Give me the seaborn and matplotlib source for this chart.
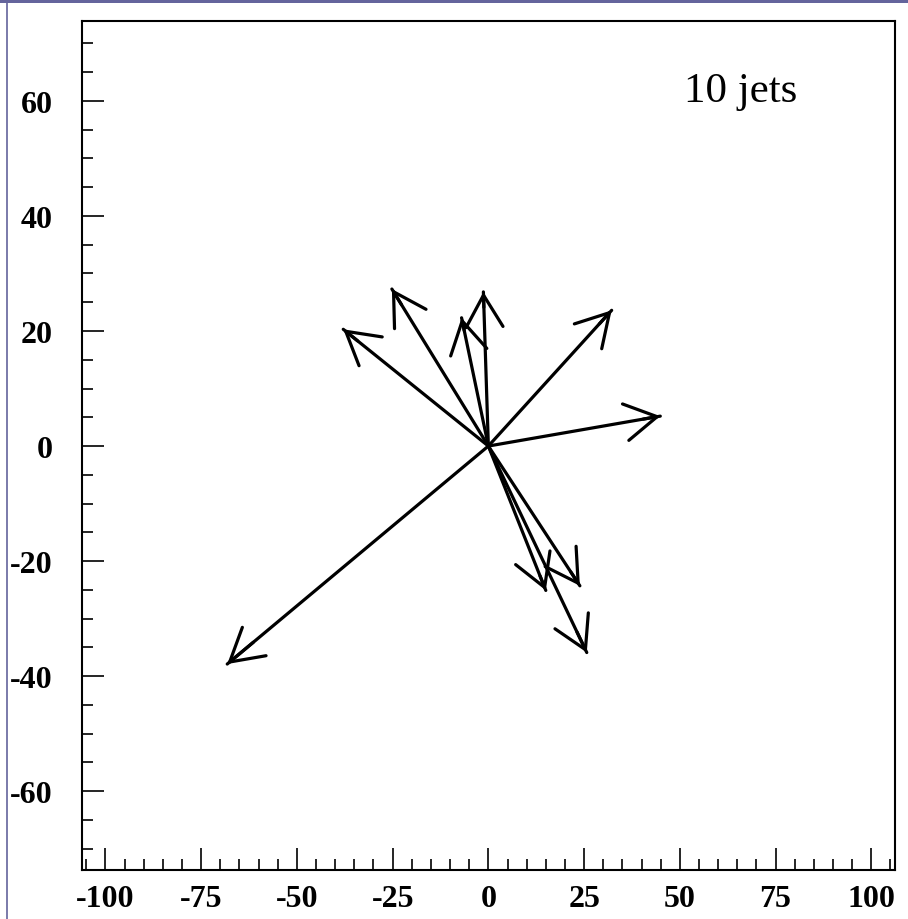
import matplotlib
matplotlib.use("Agg")
import matplotlib.pyplot as plt
from matplotlib.patches import Rectangle
from matplotlib.lines import Line2D
from matplotlib.ticker import MultipleLocator
import seaborn as sns
import pandas as pd

# jet momentum vectors (tips of the arrows, all start at the origin)
jet_px = [-68.2, 44.9, 32.2, -1.3, -7.0, -25.2, -37.9, 15.0, 23.9, 25.7]
jet_py = [-37.9, 5.2, 23.6, 26.8, 22.3, 27.3, 20.3, -25.1, -24.3, -35.9]
label_text = "10 jets"

sns.set_theme(style="ticks")
plt.rcParams["font.family"] = ["Liberation Serif", "DejaVu Serif"]
plt.rcParams["axes.unicode_minus"] = False
plt.rcParams["text.color"] = "black"

fig = plt.figure(figsize=(9.08, 9.2), dpi=100)
ax = fig.add_axes([0.09, 0.0533, 0.8957, 0.9228])

# shafts
rows = []
for i, (px, py) in enumerate(zip(jet_px, jet_py)):
    rows.append({"jet": i, "x": 0.0, "y": 0.0})
    rows.append({"jet": i, "x": px, "y": py})
df = pd.DataFrame(rows)
sns.lineplot(data=df, x="x", y="y", units="jet", estimator=None, sort=False,
             color="black", linewidth=2.3, ax=ax, legend=False)

# open arrow heads
for px, py in zip(jet_px, jet_py):
    ax.annotate("", xy=(px, py), xytext=(0.9 * px, 0.9 * py),
                arrowprops=dict(arrowstyle="->,head_length=23,head_width=13.3",
                                mutation_scale=1, color="black", lw=2.3,
                                shrinkA=0, shrinkB=0))

ax.text(51, 60, label_text, fontsize=31, va="baseline", ha="left",
        color="black", family=["Liberation Serif", "DejaVu Serif"])

ax.set_xlim(-106.2, 106.2)
ax.set_ylim(-73.7, 73.9)
ax.set_xlabel("")
ax.set_ylabel("")

ax.xaxis.set_major_locator(MultipleLocator(25))
ax.xaxis.set_minor_locator(MultipleLocator(5))
ax.yaxis.set_major_locator(MultipleLocator(20))
ax.yaxis.set_minor_locator(MultipleLocator(5))

ax.tick_params(which="both", direction="in", top=False, right=False,
               color="black", width=1.2)
ax.tick_params(which="major", length=16)
ax.tick_params(which="minor", length=8)
ax.tick_params(axis="x", which="major", pad=10)
ax.tick_params(axis="y", which="major", pad=21)

for lab in ax.get_xticklabels() + ax.get_yticklabels():
    lab.set_fontweight("bold")
    lab.set_fontsize(23)
    lab.set_color("black")

for sp in ax.spines.values():
    sp.set_visible(True)
    sp.set_linewidth(1.5)
    sp.set_color("black")

# page border from the source slide
border = "#64649c"
fig.add_artist(Rectangle((0, 1 - 4 / 920), 1, 4 / 920, transform=fig.transFigure,
                         color=border, lw=0))
fig.add_artist(Line2D([6.5 / 908, 6.5 / 908], [0, 1], transform=fig.transFigure,
                      color=border, lw=1.2))

fig.savefig("out.png", dpi=100)
